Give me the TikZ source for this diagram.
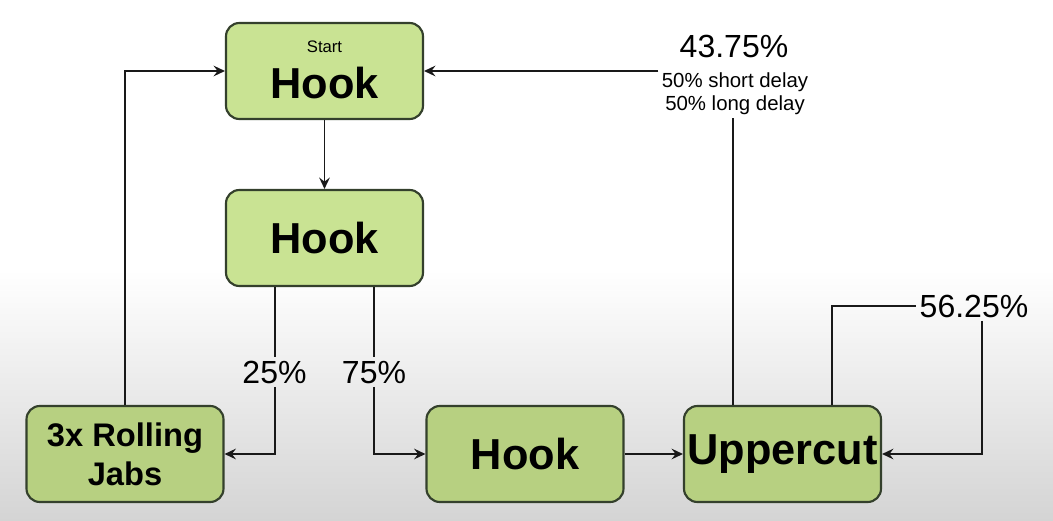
\documentclass[tikz,border=0pt]{standalone}
\usepackage{fontspec}
\setmainfont{Liberation Sans}
\usetikzlibrary{arrows.meta,calc}
\definecolor{boxfillA}{HTML}{C9E393}
\definecolor{boxfillB}{HTML}{B7D081}
\definecolor{boxline}{HTML}{34402C}
\definecolor{bgbot}{HTML}{D4D4D4}
\begin{document}
\begin{tikzpicture}[x=0.75pt,y=-0.75pt,
  box/.style={draw=boxline, line width=1.6pt, rounded corners=10pt,
    minimum width=147.75pt, minimum height=72pt, inner sep=0pt,
    fill=boxfillA, font=\fontsize{32.5}{36}\selectfont\bfseries, align=center},
  lowbox/.style={box, fill=boxfillB},
  pct/.style={font=\fontsize{24}{26}\selectfont, inner sep=2.5pt, anchor=base},
  note/.style={font=\fontsize{15.3}{17}\selectfont, inner sep=2.5pt, anchor=base},
  tiny/.style={font=\fontsize{12.5}{14}\selectfont, inner sep=0pt, anchor=base},
  conn/.style={line width=1.3pt, draw=black!90, -{Stealth[length=8.5pt,width=8pt,inset=3pt]}},
  plain/.style={line width=1.3pt, draw=black!90}]
\useasboundingbox (0,0) rectangle (1053,521);
\fill[white] (0,0) rectangle (1053,521);
\shade[top color=white, bottom color=bgbot] (0,270) rectangle (1053,521);

% nodes
\node[box] (h1) at (324.5,71) {};
\node[box, draw=none, fill=none, minimum width=0pt, minimum height=0pt, anchor=base] (h1t) at (324.5,98) {Hook};
\node[tiny] (h1s) at (324.5,52) {Start};
\node[box] (h2) at (324.5,238) {Hook};
\node[lowbox, font=\fontsize{24.5}{29}\selectfont\bfseries] (jabs) at (125,454) {3x Rolling\\Jabs};
\node[lowbox] (h3) at (525,454) {Hook};
\node[lowbox] (uc) at (782.5,454) {Uppercut};

% labels
\node[pct] (p25) at (274.5,383) {25\%};
\node[pct] (p75) at (374,383) {75\%};
\node[pct] (p43) at (734,57) {43.75\%};
\node[note] (d1) at (735,87) {50\% short delay};
\node[note] (d2) at (735,110) {50\% long delay};
\node[pct] (p56) at (974,317) {56.25\%};

% attachment points
\coordinate (h2a) at ($(h2.south west)!0.25!(h2.south east)$);
\coordinate (h2b) at ($(h2.south west)!0.75!(h2.south east)$);
\coordinate (uca) at ($(uc.north west)!0.25!(uc.north east)$);
\coordinate (ucb) at ($(uc.north west)!0.75!(uc.north east)$);
\coordinate (r56) at (982,305);

% connectors
\draw[conn] (h1.south) -- (h2.north);
\draw[conn] (jabs.north) |- (h1.west);
\draw[plain] (h2a) -- (h2a |- p25.north);
\draw[conn] (h2a |- p25.south) |- (jabs.east);
\draw[plain] (h2b) -- (h2b |- p75.north);
\draw[conn] (h2b |- p75.south) |- (h3.west);
\draw[conn] (h3.east) -- (uc.west);
\draw[plain] (uca) -- (uca |- d2.south);
\draw[conn] (d1.west |- h1.east) -- (h1.east);
\draw[plain] (ucb) |- (p56.west);
\draw[conn] (r56 |- p56.south) |- (uc.east);
\end{tikzpicture}
\end{document}
